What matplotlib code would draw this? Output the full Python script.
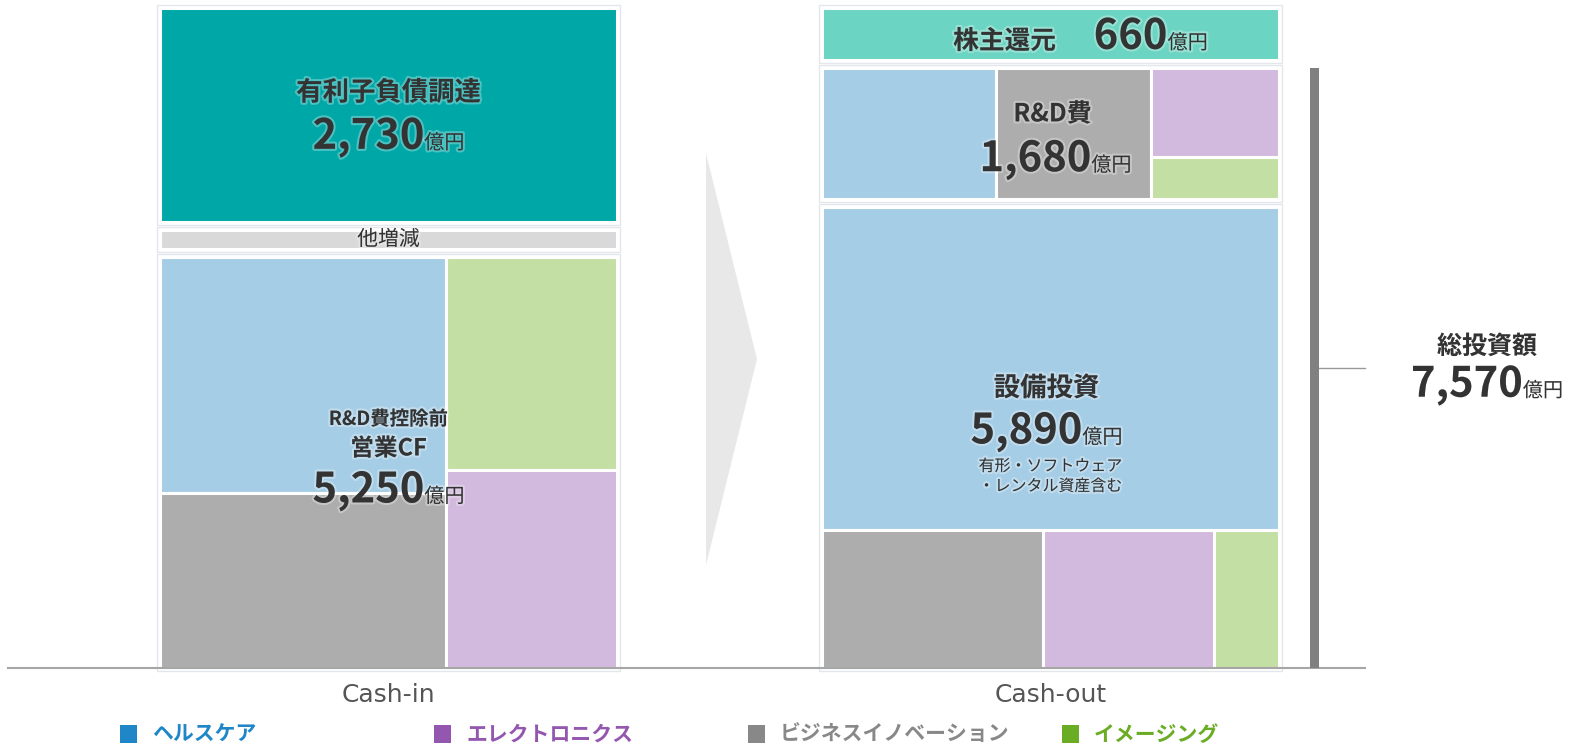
import matplotlib.pyplot as plt
import matplotlib.patheffects as pe
from matplotlib.patches import Rectangle, Polygon
from matplotlib.offsetbox import TextArea, HPacker, DrawingArea, AnnotationBbox

plt.rcParams["font.family"] = ["Noto Sans CJK JP", "DejaVu Sans"]

# segments, legend order
segments = ["ヘルスケア", "エレクトロニクス", "ビジネスイノベーション", "イメージング"]
seg_light = ["#a6cde6", "#d2b9de", "#adadad", "#c4dfa4"]
seg_dark = ["#1f86c8", "#9457b0", "#888888", "#6aac23"]

# cash-in (億円)
debt_raised = 2730
other_change = 250
ocf_total = 5250
ocf_by_seg = [1880, 950, 1400, 1020]

# cash-out (億円)
shareholder_return = 660
rd_total = 1680
rd_by_seg = [640, 320, 570, 150]
capex_total = 5890
capex_by_seg = [4130, 660, 850, 250]
total_invest = 7570

W, H = 1571, 746
GAP = 100            # value units between stacked blocks
COL_W = 457
IN_X, OUT_X = 160, 822
TEXT = "#333333"
GLOW = [pe.withStroke(linewidth=3, foreground="white", alpha=0.3)]

in_stack = ocf_total + GAP + other_change + GAP + debt_raised
out_stack = capex_total + GAP + rd_total + GAP + shareholder_return
top_total = max(in_stack, out_stack)
s = 660 / top_total   # px per 億円

fig = plt.figure(figsize=(W / 100, H / 100), dpi=100)
ax = fig.add_axes([0, 0, 1, 1])
ax.set_xlim(0, W)
ax.set_ylim(-(H - 668) / s, top_total + 8 / s)
ax.axis("off")

pad_y = 3 / s


def frame(x, y, w, h):
    ax.add_patch(Rectangle((x - 3, y - pad_y), w + 6, h + 2 * pad_y,
                           facecolor="white", edgecolor="#e3e7eb", linewidth=1))


def cell(x, y, w, h, color):
    ax.add_patch(Rectangle((x, y), w, h, facecolor=color,
                           edgecolor="white", linewidth=2.2))


def split_cols(x, y, w, h, cols):
    total = sum(v for col in cols for v, _ in col)
    for col in cols:
        col_sum = sum(v for v, _ in col)
        cw = w * col_sum / total
        top = y + h
        for v, c in col:
            ch = h * v / col_sum
            cell(x, top - ch, cw, ch, c)
            top -= ch
        x += cw


def split_rows(x, y, w, h, rows):
    total = sum(v for row in rows for v, _ in row)
    top = y + h
    for row in rows:
        row_sum = sum(v for v, _ in row)
        rh = h * row_sum / total
        xx = x
        for v, c in row:
            cw = w * v / row_sum
            cell(xx, top - rh, cw, rh, c)
            xx += cw
        top -= rh


def label(parts, xy, dy_px=0):
    areas = []
    for p in parts:
        if isinstance(p, (int, float)):
            areas.append(DrawingArea(p, 1))
            continue
        text, size, weight = p
        areas.append(TextArea(text, textprops=dict(
            fontsize=size, fontweight=weight, color=TEXT, path_effects=GLOW)))
    box = HPacker(children=areas, align="baseline", pad=0, sep=0)
    ab = AnnotationBbox(box, xy, xybox=(0, -dy_px * 0.72), xycoords="data",
                        boxcoords="offset points", frameon=False, pad=0,
                        box_alignment=(0.5, 0.5))
    ax.add_artist(ab)


def seg(vals, i):
    return (vals[i], seg_light[i])


HC, EL, BI, IM = 0, 1, 2, 3

# ---- cash-in column
cx_in = IN_X + COL_W / 2
y = 0
frame(IN_X, y, COL_W, ocf_total)
split_cols(IN_X, y, COL_W, ocf_total,
           [[seg(ocf_by_seg, HC), seg(ocf_by_seg, BI)],
            [seg(ocf_by_seg, IM), seg(ocf_by_seg, EL)]])
mid = y + ocf_total / 2
label([("R&D費控除前", 14, "bold")], (cx_in, mid), -43)
label([("営業CF", 17, "bold")], (cx_in, mid), -14)
label([("5,250", 30, "bold"), ("億円", 14.5, "normal")], (cx_in, mid), 28)

y += ocf_total + GAP
frame(IN_X, y, COL_W, other_change)
cell(IN_X, y, COL_W, other_change, "#d9d9d9")
label([("他増減", 15, "normal")], (cx_in, y + other_change / 2), 0)

y += other_change + GAP
frame(IN_X, y, COL_W, debt_raised)
cell(IN_X, y, COL_W, debt_raised, "#00a7a7")
mid = y + debt_raised / 2
label([("有利子負債調達", 19, "bold")], (cx_in, mid), -22)
label([("2,730", 30, "bold"), ("億円", 14.5, "normal")], (cx_in, mid), 22)

# ---- cash-out column
cx_out = OUT_X + COL_W / 2
y = 0
frame(OUT_X, y, COL_W, capex_total)
split_rows(OUT_X, y, COL_W, capex_total,
           [[seg(capex_by_seg, HC)],
            [seg(capex_by_seg, BI), seg(capex_by_seg, EL), seg(capex_by_seg, IM)]])
mid = y + capex_total / 2
label([("設備投資", 19, "bold")], (cx_out - 4, mid), -49)
label([("5,890", 30, "bold"), ("億円", 14.5, "normal")], (cx_out - 4, mid), -6)
label([("有形・ソフトウェア", 11.5, "normal")], (cx_out, mid), 29)
label([("・レンタル資産含む", 11.5, "normal")], (cx_out, mid), 49)

y += capex_total + GAP
frame(OUT_X, y, COL_W, rd_total)
split_cols(OUT_X, y, COL_W, rd_total,
           [[seg(rd_by_seg, HC)], [seg(rd_by_seg, BI)],
            [seg(rd_by_seg, EL), seg(rd_by_seg, IM)]])
mid = y + rd_total / 2
label([("R&D費", 18, "bold")], (cx_out + 2, mid), -19)
label([("1,680", 30, "bold"), ("億円", 14.5, "normal")], (cx_out + 5, mid), 26)
rd_top = y + rd_total

y += rd_total + GAP
frame(OUT_X, y, COL_W, shareholder_return)
cell(OUT_X, y, COL_W, shareholder_return, "#6bd4c2")
label([("株主還元", 18.5, "bold"), 27, ("660", 30, "bold"), ("億円", 14.5, "normal")],
      (cx_out + 30, y + shareholder_return / 2), 3)

# ---- arrow between columns
ax.add_patch(Polygon([(706, top_total * 0.78), (757, top_total * 0.468),
                      (706, top_total * 0.156)],
                     closed=True, facecolor="#e8e8e8", edgecolor="none"))

# ---- baseline and bracket
ax.plot([8, 1365], [0, 0], color="#a6a6a6", linewidth=1.5, zorder=1)
ax.add_patch(Rectangle((1310, 0), 9, rd_top, facecolor="#808080",
                       edgecolor="none"))
ax.plot([1319, 1365], [rd_top / 2, rd_top / 2], color="#999999", linewidth=1)
label([("総投資額", 18, "bold")], (1487, rd_top / 2), -21)
label([("7,570", 30, "bold"), ("億円", 14.5, "normal")], (1487, rd_top / 2), 17)

# ---- column captions
for cx, name in [(cx_in, "Cash-in"), (cx_out, "Cash-out")]:
    ax.annotate(name, (cx, 0), xytext=(0, -27 * 0.72), textcoords="offset points",
                ha="center", va="center", fontsize=18, color="#555555",
                family=["DejaVu Sans"])

# ---- legend
for i, name in enumerate(segments):
    lx = 120 + i * 314
    fig.patches.append(Rectangle((lx / W, 1 - 743 / H), 17 / W, 18 / H,
                                 transform=fig.transFigure,
                                 facecolor=seg_dark[i], edgecolor="none"))
    fig.text((lx + 32) / W, 1 - 734 / H, name, ha="left", va="center",
             fontsize=15, fontweight="bold", color=seg_dark[i])

fig.savefig("out.png", dpi=100)
